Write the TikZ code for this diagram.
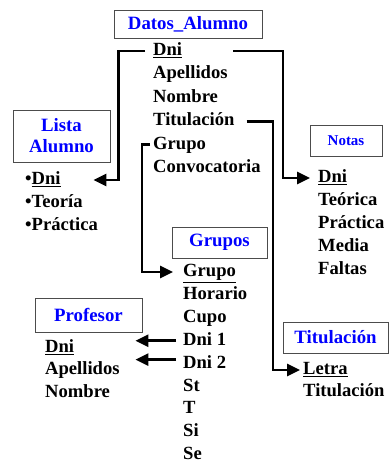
\documentclass[tikz,border=0pt]{standalone}
\usepackage{fontspec}
\setmainfont{Liberation Serif}
\usetikzlibrary{positioning,arrows.meta}
\newcommand{\fieldfont}{\fontsize{18.6}{20}\selectfont\bfseries}
\newcommand{\titlefont}{\fontsize{18.8}{21}\selectfont\bfseries}

\begin{document}
\begin{tikzpicture}[x=1pt,y=-1pt,
  tablebox/.style={draw=black!70, line width=0.8pt, fill=white, text=blue, font=\titlefont, inner sep=1pt, align=center},
  field/.style={font=\fieldfont, anchor=west, inner xsep=0pt, inner ysep=0pt, text height=13pt, text depth=4pt, minimum height=23pt},
  link/.style={line width=2.6pt, -{Triangle[length=13pt,width=12pt]}}]
\useasboundingbox (0,0) rectangle (389,463);

% Datos_Alumno
\node (datos) [tablebox, minimum width=148pt, minimum height=28pt] at (188,24) {Datos\_Alumno};
\node (dDni) [field] at (153,51) {\underline{Dni}};
\node (dApe) [field, below=0pt of dDni.south west, anchor=north west] {Apellidos};
\node (dNom) [field, below=0pt of dApe.south west, anchor=north west] {Nombre};
\node (dTit) [field, below=0pt of dNom.south west, anchor=north west] {Titulación};
\node (dGrupo) [field, below=0pt of dTit.south west, anchor=north west] {Grupo};
\node (dConv) [field, below=0pt of dGrupo.south west, anchor=north west] {Convocatoria};

% Lista Alumno
\node (lista) [tablebox, minimum width=97pt, minimum height=52pt] at (61.5,136) {Lista\\Alumno};
\node (lDni) [field, minimum height=22.5pt] at (25,180) {•\underline{Dni}};
\node (lTeo) [field, minimum height=22.5pt, below=0pt of lDni.south west, anchor=north west] {•Teoría};
\node (lPra) [field, minimum height=22.5pt, below=0pt of lTeo.south west, anchor=north west] {•Práctica};

% Notas
\node (notas) [tablebox, font=\fontsize{15}{17}\selectfont\bfseries, minimum width=72pt, minimum height=31pt] at (346,140.5) {Notas};
\node (nDni) [field, minimum height=22.5pt] at (318,178) {\underline{Dni}};
\node (nTeo) [field, minimum height=22.5pt, below=0pt of nDni.south west, anchor=north west] {Teórica};
\node (nPra) [field, minimum height=22.5pt, below=0pt of nTeo.south west, anchor=north west] {Práctica};
\node (nMed) [field, minimum height=22.5pt, below=0pt of nPra.south west, anchor=north west] {Media};
\node (nFal) [field, minimum height=22.5pt, below=0pt of nMed.south west, anchor=north west] {Faltas};

% Grupos
\node (grupos) [tablebox, minimum width=95pt, minimum height=31pt] at (219.5,242.5) {Grupos};
\node (gGrupo) [field, minimum height=22.5pt] at (183,272) {\underline{Grupo}};
\node (gHor) [field, minimum height=22.5pt, below=0pt of gGrupo.south west, anchor=north west] {Horario};
\node (gCupo) [field, minimum height=22.5pt, below=0pt of gHor.south west, anchor=north west] {Cupo};
\node (gDni1) [field, minimum height=22.5pt, below=0pt of gCupo.south west, anchor=north west] {Dni 1};
\node (gDni2) [field, minimum height=22.5pt, below=0pt of gDni1.south west, anchor=north west] {Dni 2};
\node (gSt) [field, minimum height=22.5pt, below=0pt of gDni2.south west, anchor=north west] {St};
\node (gT) [field, minimum height=22.5pt, below=0pt of gSt.south west, anchor=north west] {T};
\node (gSi) [field, minimum height=22.5pt, below=0pt of gT.south west, anchor=north west] {Si};
\node (gSe) [field, minimum height=22.5pt, below=0pt of gSi.south west, anchor=north west] {Se};

% Profesor
\node (profesor) [tablebox, minimum width=107pt, minimum height=34pt] at (88.5,315) {Profesor};
\node (pDni) [field, minimum height=22pt] at (45,348) {\underline{Dni}};
\node (pApe) [field, minimum height=22pt, below=0pt of pDni.south west, anchor=north west] {Apellidos};
\node (pNom) [field, minimum height=22pt, below=0pt of pApe.south west, anchor=north west] {Nombre};

% Titulacion
\node (titul) [tablebox, minimum width=105pt, minimum height=31pt] at (335.5,337.5) {Titulación};
\node (tLetra) [field, minimum height=22pt] at (303,370) {\underline{Letra}};
\node (tTit) [field, minimum height=22pt, below=0pt of tLetra.south west, anchor=north west] {Titulación};

% links
\draw [link] ([xshift=-8pt]dDni.west) -| ([xshift=8pt]lista.east |- lDni) -- ([xshift=-17pt]lista.east |- lDni);
\draw [link] ([xshift=80pt]dDni.west) -| ([xshift=-35pt]nDni.west) -- ([xshift=-8pt]nDni.west);
\draw [link] ([xshift=12pt]dTit.east) -| ([xshift=-30pt]tLetra.west) -- ([xshift=-3pt]tLetra.west);
\draw [link] ([xshift=-3pt]dGrupo.west) -| ([xshift=-41pt]gGrupo.west) -- ([xshift=-10pt]gGrupo.west);
\draw [link] ([xshift=-7pt]gDni1.west) -- ([xshift=-7pt]gDni1.west -| profesor.east);
\draw [link] ([xshift=-7pt,yshift=4pt]gDni2.west) -- ([xshift=-7pt,yshift=4pt]gDni2.west -| profesor.east);
\end{tikzpicture}
\end{document}
